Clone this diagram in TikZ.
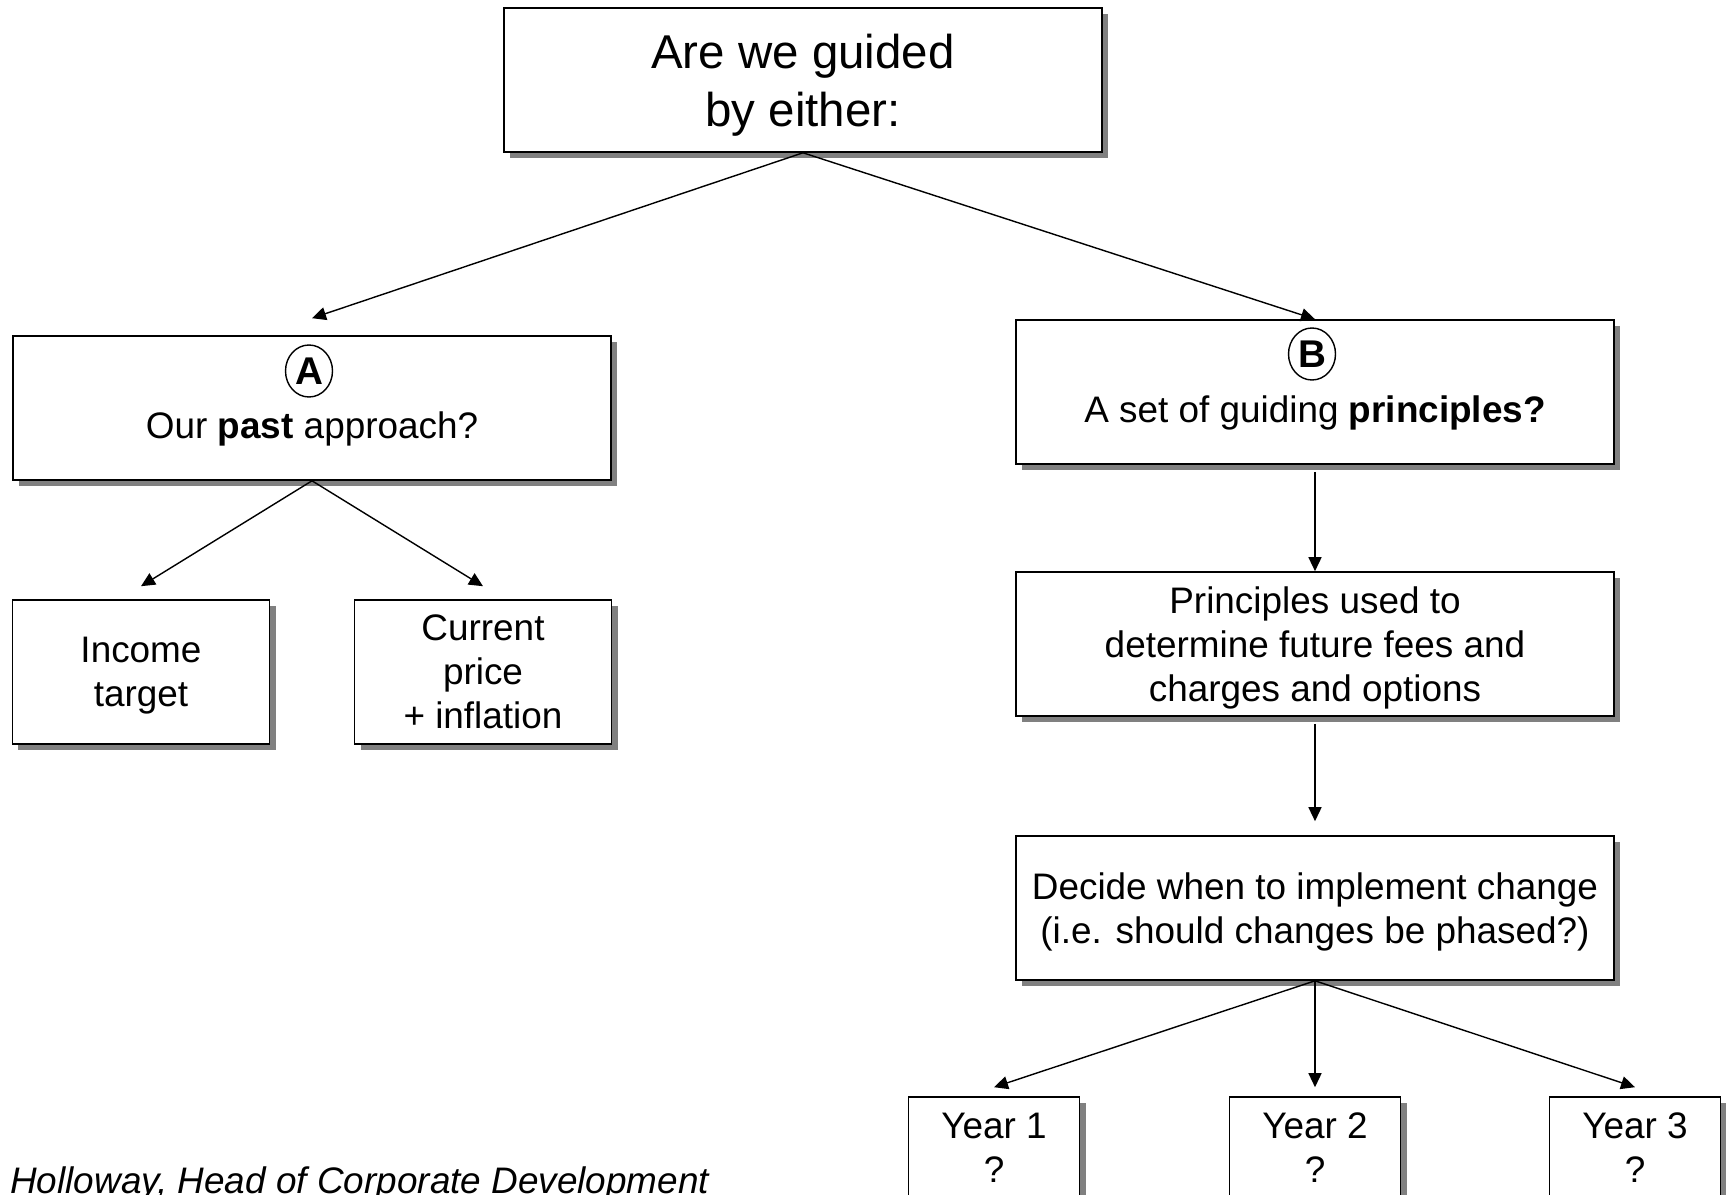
\documentclass[tikz,border=0pt]{standalone}
\usepackage{fontspec}
\setmainfont{Liberation Sans}
\usetikzlibrary{arrows.meta,shadows,shapes.geometric}
\definecolor{Ink}{HTML}{000000}
\definecolor{Shade}{HTML}{808080}
\begin{document}
\begin{tikzpicture}[x=0.2mm,y=-0.2mm,>={Triangle[length=2.8mm,width=2.6mm]}]
\tikzset{flowbox/.style={draw=Ink,line width=0.9pt,fill=white,drop shadow={shadow xshift=1.2mm,shadow yshift=-1.2mm,fill=Shade,opacity=1},align=center,text=Ink,inner sep=0pt,font=\fontsize{21}{25}\selectfont,text depth=-1pt}, widebox/.style={flowbox,minimum width=119.6mm,minimum height=28.8mm}, smallbox/.style={flowbox,minimum width=51.4mm,minimum height=28.8mm}, yearbox/.style={flowbox,minimum width=34.2mm,minimum height=22mm,text depth=5pt}, badge/.style={ellipse,draw=Ink,line width=0.8pt,inner sep=0.4pt,minimum height=10.4mm,minimum width=9.4mm,font=\fontsize{22}{25}\selectfont\bfseries}, boxtext/.style={anchor=base,inner sep=0pt,text=Ink,font=\fontsize{21}{25}\selectfont}, arrow/.style={->,line width=0.8pt,Ink}}
\useasboundingbox (0,0) rectangle (1726,1194);
\node[widebox,font=\fontsize{27}{33}\selectfont] (guide) at (803,80) {Are we guided\\by either:};
\node[widebox] (past) at (312,408) {};
\node[badge] (pastbadge) at (309,371) {A};
\node[boxtext] (pasttext) at (312,438) {Our \textbf{past} approach?};
\node[widebox] (set) at (1315,392) {};
\node[badge] (setbadge) at (1312,354) {B};
\node[boxtext] (settext) at (1315,422) {A set of guiding \textbf{principles?}};
\node[smallbox] (income) at (141,672) {Income\\target};
\node[smallbox] (current) at (483,672) {Current\\price\\+ inflation};
\node[widebox] (rules) at (1315,644) {Principles used to\\determine future fees and\\charges and options};
\node[widebox] (decide) at (1315,908) {Decide when to implement change\\(i.e. should changes be phased?)};
\node[yearbox] (year1) at (994,1152) {Year 1\\?};
\node[yearbox] (year2) at (1315,1152) {Year 2\\?};
\node[yearbox] (year3) at (1635,1152) {Year 3\\?};
\node[anchor=base west,inner sep=0pt,font=\fontsize{21}{25}\selectfont\itshape] (credit) at (10,1193) {Holloway, Head of Corporate Development};
\draw[arrow] (guide.south) -- ([yshift=3.4mm]past.north);
\draw[arrow] (guide.south) -- (set.north);
\draw[arrow] (past.south) -- ([yshift=2.6mm]income.north);
\draw[arrow] (past.south) -- ([yshift=2.6mm]current.north);
\draw[arrow] ([yshift=-1.4mm]set.south) -- (rules.north);
\draw[arrow] ([yshift=-1.4mm]rules.south) -- ([yshift=2.8mm]decide.north);
\draw[arrow] (decide.south) -- ([yshift=1.8mm]year1.north);
\draw[arrow] (decide.south) -- ([yshift=1.8mm]year2.north);
\draw[arrow] (decide.south) -- ([yshift=1.8mm]year3.north);
\end{tikzpicture}
\end{document}
